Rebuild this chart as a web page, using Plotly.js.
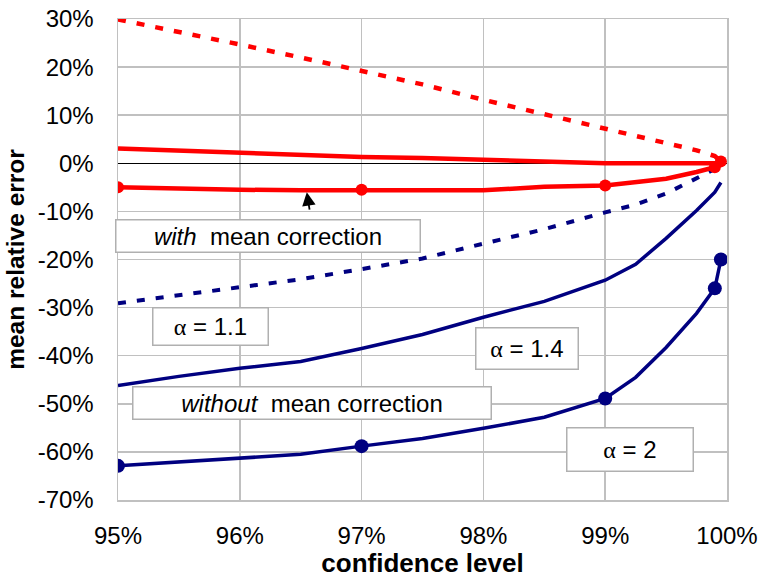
<!DOCTYPE html>
<html><head><meta charset="utf-8">
<script src="https://cdn.plot.ly/plotly-3.0.1.min.js"></script>
<style>html,body{margin:0;padding:0;background:#fff}#chart{width:758px;height:578px}</style>
</head><body><div id="chart"></div>
<script>
const confidenceLevels = [95, 95.5, 96, 96.5, 97, 97.5, 98, 98.5, 99, 99.25, 99.5, 99.75, 99.9, 99.95];
const withCorrAlpha11 = [29.9, 27.4, 24.7, 22.0, 19.3, 16.4, 13.2, 10.2, 7.3, 5.8, 4.2, 2.7, 1.5, 0.4];
const withCorrAlpha14 = [3.1, 2.6, 2.1, 1.7, 1.3, 1.1, 0.7, 0.5, 0, 0, 0, 0, 0, 0];
const withCorrAlpha2 = [-5.0, -5.3, -5.5, -5.6, -5.5, -5.6, -5.6, -4.9, -4.6, -3.9, -3.2, -1.8, -0.8, 0.4];
const withoutCorrAlpha11 = [-29.1, -27.4, -25.8, -24.1, -22.0, -19.8, -16.7, -13.7, -10.2, -8.6, -6.3, -3.2, -1.2, null];
const withoutCorrAlpha14 = [-46.2, -44.3, -42.6, -41.2, -38.5, -35.6, -32.0, -28.7, -24.3, -21.0, -15.6, -9.8, -6.0, -4.0];
const withoutCorrAlpha2 = [-62.9, -62.1, -61.4, -60.5, -58.8, -57.2, -55.1, -52.8, -48.9, -44.5, -38.3, -31.2, -26.0, -20.0];
const markedLevels = [95, 97, 99, 99.9, 99.95];

const xTickVals = [95, 96, 97, 98, 99, 100];
const xTickLabels = ["95%", "96%", "97%", "98%", "99%", "100%"];
const yTickVals = [-70, -60, -50, -40, -30, -20, -10, 0, 10, 20, 30];
const yTickLabels = ["-70%", "-60%", "-50%", "-40%", "-30%", "-20%", "-10%", "0%", "10%", "20%", "30%"];

const RED = '#ff0000', BLUE = '#000080';
const FONT = '"Liberation Sans", Arial, sans-serif';

function markerSizes(sz) { return confidenceLevels.map(c => markedLevels.includes(c) ? sz : 0); }

const traces = [
  {x: confidenceLevels, y: withoutCorrAlpha11, mode: 'lines', line: {color: BLUE, width: 4, dash: '8px,11px'}},
  {x: confidenceLevels, y: withoutCorrAlpha14, mode: 'lines', line: {color: BLUE, width: 3.5}},
  {x: confidenceLevels, y: withoutCorrAlpha2, mode: 'lines+markers', line: {color: BLUE, width: 3.5},
   marker: {color: BLUE, size: markerSizes(14), opacity: 1, line: {width: 0}}},
  {x: confidenceLevels, y: withCorrAlpha11, mode: 'lines', line: {color: RED, width: 4.5, dash: '8px,11px'}},
  {x: confidenceLevels, y: withCorrAlpha14, mode: 'lines', line: {color: RED, width: 4.5}},
  {x: confidenceLevels, y: withCorrAlpha2, mode: 'lines+markers', line: {color: RED, width: 4.5},
   marker: {color: RED, size: markerSizes(12), opacity: 1, line: {width: 0}}}
];

function box(text, x, y, W, H) {
  return {text: text, x: x, y: y, xref: 'x', yref: 'y', showarrow: false,
    width: W - 3, height: H - 3, bgcolor: '#ffffff', bordercolor: '#b0b0b0', borderwidth: 1.5, borderpad: 0,
    font: {family: FONT, size: 24, color: '#000'}, xanchor: 'center', yanchor: 'middle', align: 'center'};
}
const alpha = '<span style="font-family:' + "'Liberation Serif'" + '">α</span>';

const layout = {
  width: 758, height: 578,
  margin: {l: 118, r: 31, t: 19, b: 78},
  paper_bgcolor: '#fff', plot_bgcolor: '#fff',
  showlegend: false,
  font: {family: FONT, size: 24, color: '#000'},
  xaxis: {range: [95, 100], tickvals: xTickVals, ticktext: xTickLabels, showgrid: true,
    gridcolor: '#c0c0c0', gridwidth: 1.5, zeroline: false, showline: true, linecolor: '#c0c0c0', linewidth: 1.5, mirror: true,
    ticks: 'outside', ticklen: 14, tickcolor: 'rgba(0,0,0,0)', tickfont: {size: 24},
    title: {text: '<b>confidence level</b>', font: {size: 26}, standoff: 2}},
  yaxis: {range: [-70, 30], tickvals: yTickVals, ticktext: yTickLabels, showgrid: true,
    gridcolor: '#c0c0c0', gridwidth: 1.5, zeroline: true, zerolinecolor: '#000', zerolinewidth: 1.5,
    showline: true, linecolor: '#c0c0c0', linewidth: 1.5, mirror: true,
    ticks: 'outside', ticklen: 18, tickcolor: 'rgba(0,0,0,0)', tickfont: {size: 24},
    title: {text: '<b>mean relative error</b>', font: {size: 24.5}, standoff: 6}},
  annotations: [
    box('<i>with</i>\u00a0 mean correction', 96.23, -15.1, 306, 34),
    box(alpha + ' = 1.1', 95.76, -34.0, 117, 39),
    box('<i>without</i>\u00a0 mean correction', 96.59, -49.8, 360, 34),
    box(alpha + ' = 1.4', 98.36, -38.4, 104, 43),
    box(alpha + ' = 2', 99.2, -59.6, 128, 45),
    {x: 96.55, y: -6.0, xref: 'x', yref: 'y', text: '', showarrow: true, ax: 3, ay: 19,
     arrowhead: 2, arrowsize: 1.5, arrowwidth: 1.8, arrowcolor: '#000'}
  ]
};

Plotly.newPlot('chart', traces, layout, {staticPlot: true, displayModeBar: false});
</script>
</body></html>
